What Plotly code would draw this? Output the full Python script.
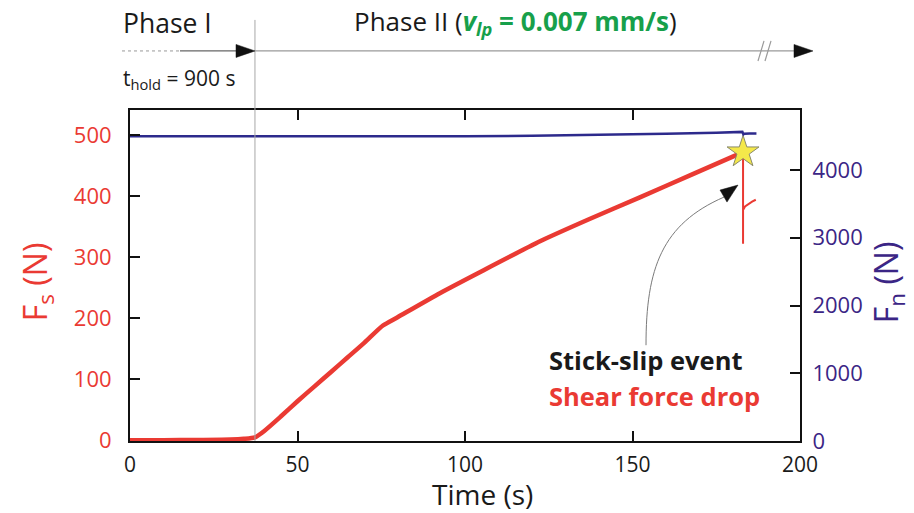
import plotly.graph_objects as go

# ---- data ----
t_fs = [0, 10, 20, 30, 34, 37.3, 40, 45, 50, 55, 60, 65, 70, 75.5, 80, 92.5, 105, 122.4, 137, 152.2, 168, 183]
fs = [0, 0.3, 0.6, 1.2, 2.5, 5, 15, 39, 64, 88, 112, 136, 160, 188, 202, 241, 277, 326, 362, 398, 436, 472]
t_fs_post = [183, 183, 183, 183.6, 184.6, 185.7, 186.8]
fs_post = [472, 322, 377, 383, 387, 391, 394]
t_fn = [0, 20, 40, 60, 80, 100, 120, 140, 160, 175, 182.8, 183.1, 183.4, 185, 187]
fn = [4500, 4498, 4496, 4494, 4494, 4497, 4505, 4518, 4535, 4552, 4563, 4525, 4535, 4538, 4538]
t_event = [183]
fs_event = [472]
t_hold_line = 37.3

x_ticks = [0, 50, 100, 150, 200]
fs_ticks = [0, 100, 200, 300, 400, 500]
fn_ticks = [0, 1000, 2000, 3000, 4000]

RED = "#EA3A33"
NAVY = "#2D2A8C"
PURPLE = "#3B2585"
GREEN = "#17A04B"
FONT = "Open Sans, DejaVu Sans, sans-serif"

# plot area in pixels: x 130..800, y 110..440.7
L, R, T, B = 130, 800, 110, 440.7


def px(x):
    return (x - L) / (R - L)


def py(y):
    return (B - y) / (B - T)


def path(pts, close=False):
    s = "M " + " L ".join(f"{px(a):.5f},{py(b):.5f}" for a, b in pts)
    return s + (" Z" if close else "")


fig = go.Figure()
fig.add_trace(go.Scatter(x=t_fn, y=fn, mode="lines", yaxis="y2",
                         line=dict(color=NAVY, width=2.5), showlegend=False))
fig.add_trace(go.Scatter(x=t_fs, y=fs, mode="lines",
                         line=dict(color=RED, width=4.5, shape="spline", smoothing=0.6),
                         showlegend=False))
fig.add_trace(go.Scatter(x=t_fs_post, y=fs_post, mode="lines",
                         line=dict(color=RED, width=2), showlegend=False))
fig.add_trace(go.Scatter(x=t_event, y=fs_event, mode="markers",
                         marker=dict(symbol="star", size=24, color="#F4E84A",
                                     line=dict(color="#8A8A6A", width=1)),
                         showlegend=False))

shapes = []
# vertical gray line (end of hold phase)
shapes.append(dict(type="line", xref="x", yref="paper", x0=t_hold_line, x1=t_hold_line,
                   y0=0, y1=py(20), line=dict(color="#A8A8A8", width=1)))
# Phase I arrow
shapes.append(dict(type="line", xref="paper", yref="paper", x0=px(122), x1=px(180),
                   y0=py(51), y1=py(51), line=dict(color="#9A9A9A", width=1, dash="dot")))
shapes.append(dict(type="line", xref="paper", yref="paper", x0=px(180), x1=px(240),
                   y0=py(51), y1=py(51), line=dict(color="#666666", width=1.3)))
shapes.append(dict(type="path", xref="paper", yref="paper",
                   path=path([(236, 44.5), (255, 51), (236, 57.5)], True),
                   fillcolor="#111111", line=dict(color="#111111", width=0.5)))
# Phase II arrow
shapes.append(dict(type="line", xref="paper", yref="paper", x0=px(255), x1=px(797),
                   y0=py(51), y1=py(51), line=dict(color="#9A9A9A", width=1.3)))
shapes.append(dict(type="line", xref="paper", yref="paper", x0=px(758), x1=px(764),
                   y0=py(61), y1=py(41), line=dict(color="#9A9A9A", width=1.2)))
shapes.append(dict(type="line", xref="paper", yref="paper", x0=px(765), x1=px(771),
                   y0=py(61), y1=py(41), line=dict(color="#9A9A9A", width=1.2)))
shapes.append(dict(type="path", xref="paper", yref="paper",
                   path=path([(794, 44.5), (813, 51), (794, 57.5)], True),
                   fillcolor="#111111", line=dict(color="#111111", width=0.5)))
# curved arrow to the stick-slip event
cp = [(646, 345), (646, 268), (662, 224), (724, 197)]
curve = (f"M {px(cp[0][0]):.5f},{py(cp[0][1]):.5f} C "
         + " ".join(f"{px(a):.5f},{py(b):.5f}" for a, b in cp[1:]))
shapes.append(dict(type="path", xref="paper", yref="paper", path=curve,
                   line=dict(color="#7A7A7A", width=1)))
shapes.append(dict(type="path", xref="paper", yref="paper",
                   path=path([(738, 185), (720, 190), (727, 202)], True),
                   fillcolor="#111111", line=dict(color="#111111", width=0.5)))

annotations = [
    dict(text="Phase I", x=px(121), y=py(23), xanchor="left", yanchor="middle",
         font=dict(size=26.5, color="#1A1A1A", family=FONT)),
    dict(text="Phase II (<span style='color:%s'><b><i>v</i><sub><i>lp</i></sub> = 0.007 mm/s</b></span>)" % GREEN,
         x=px(352), y=py(22), xanchor="left", yanchor="middle",
         font=dict(size=26, color="#1A1A1A", family=FONT)),
    dict(text="t<sub>hold</sub> = 900 s", x=px(121), y=py(79), xanchor="left", yanchor="middle",
         font=dict(size=21, color="#1A1A1A", family=FONT)),
    dict(text="Time (s)", x=px(482), y=py(513.5), xanchor="center", yanchor="bottom",
         borderpad=0, font=dict(size=28, color="#1A1A1A", family=FONT)),
    dict(text="F<sub>s</sub> (N)", x=px(37), y=py(282), xanchor="center", yanchor="middle",
         textangle=-90, font=dict(size=32, color=RED, family=FONT)),
    dict(text="F<sub>n</sub> (N)", x=px(888), y=py(282), xanchor="center", yanchor="middle",
         textangle=-90, font=dict(size=32, color=PURPLE, family=FONT)),
    dict(text="<b>Stick-slip event</b>", x=px(547), y=py(360), xanchor="left", yanchor="middle",
         font=dict(size=25.5, color="#1A1A1A", family=FONT)),
    dict(text="<b>Shear force drop</b>", x=px(547), y=py(396), xanchor="left", yanchor="middle",
         font=dict(size=25.5, color=RED, family=FONT)),
]
for a in annotations:
    a.update(xref="paper", yref="paper", showarrow=False)

fig.update_layout(
    width=914, height=513, autosize=False,
    margin=dict(l=L, r=914 - R, t=T, b=513 - B),
    paper_bgcolor="white", plot_bgcolor="white",
    shapes=shapes, annotations=annotations,
    font=dict(family=FONT),
    xaxis=dict(range=[0, 200], tickvals=x_ticks, ticks="inside", ticklen=10, tickwidth=1.5,
               tickcolor="#111", showline=True, linecolor="#111", linewidth=2, mirror="ticks",
               showgrid=False, zeroline=False, ticklabelstandoff=4,
               tickfont=dict(size=21, color="#1A1A1A", family=FONT)),
    yaxis=dict(range=[-1.1, 541], tickvals=fs_ticks, ticks="inside", ticklen=10, tickwidth=1.5,
               tickcolor="#111", showline=True, linecolor="#111", linewidth=2,
               showgrid=False, zeroline=False, ticklabelstandoff=12,
               tickfont=dict(size=22, color=RED, family=FONT)),
    yaxis2=dict(range=[0, 4886], tickvals=fn_ticks, ticks="inside", ticklen=10, tickwidth=1.5,
                tickcolor="#111", showline=True, linecolor="#111", linewidth=2,
                overlaying="y", side="right", showgrid=False, zeroline=False,
                ticklabelstandoff=6,
                tickfont=dict(size=22, color=PURPLE, family=FONT)),
)

fig.write_html("out.html")
